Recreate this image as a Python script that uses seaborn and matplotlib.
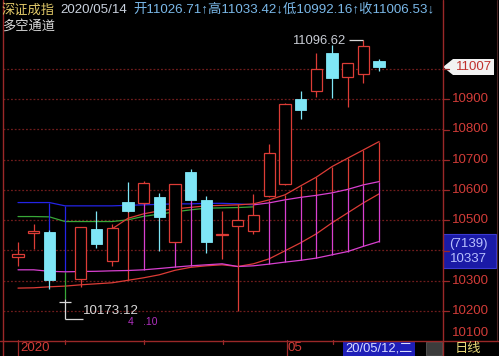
import matplotlib
matplotlib.use("Agg")
import matplotlib.pyplot as plt
import seaborn as sns
import pandas as pd
from matplotlib.patches import Polygon, Rectangle, FancyBboxPatch
from matplotlib.lines import Line2D

# ---------------- data ----------------
bars = list(range(24))
opens = [10377.5, 10457.9, 10462.2, 10227.4, 10305.8, 10470.1, 10366.3, 10561.3,
         10556.0, 10577.8, 10427.1, 10658.5, 10566.9, 10449.6, 10482.0, 10464.5,
         10580.2, 10619.8, 10899.8, 10927.3, 11053.9, 10974.5, 10982.5, 11026.71]
highs = [10427.1, 10487.6, 10467.0, 10240.0, 10477.5, 10530.6, 10486.6, 10627.4,
         10629.7, 10590.1, 10620.5, 10668.4, 10580.2, 10531.6, 10553.7, 10585.8,
         10752.1, 10886.0, 10927.3, 11053.9, 11079.3, 11020.0, 11096.62, 11033.42]
lows = [10348.8, 10405.0, 10272.7, 10173.12, 10278.3, 10407.3, 10348.8, 10527.3,
        10552.1, 10399.3, 10425.0, 10565.0, 10392.7, 10370.9, 10197.7, 10453.5,
        10578.0, 10617.0, 10834.7, 10908.4, 10903.1, 10873.4, 10954.7, 10992.16]
closes = [10387.4, 10465.5, 10300.2, 10227.4, 10476.7, 10420.5, 10473.4, 10531.6,
          10624.1, 10509.8, 10618.8, 10566.9, 10427.1, 10452.9, 10500.8, 10517.4,
          10721.3, 10884.3, 10864.5, 11000.0, 10971.2, 11018.8, 11076.0, 11006.53]

# channel lines (first bar index, values)
blue_start = 0
blue_line = [10558.0, 10558.0, 10558.0, 10547.1, 10547.1, 10547.1, 10547.1, 10548.8,
             10550.4, 10552.1, 10553.7, 10553.7, 10555.4, 10555.4, 10553.7, 10550.4]
green_start = 0
green_line = [10511.7, 10511.7, 10510.7, 10495.2, 10495.2, 10495.2, 10495.2, 10500.8,
              10512.4, 10519.7, 10527.3, 10533.9, 10539.5, 10540.5, 10541.5, 10543.8]
mag_low_start = 0
mag_low = [10335.5, 10335.5, 10330.6, 10328.9, 10329.9, 10330.6, 10332.2, 10333.2,
           10335.5, 10339.8, 10344.5, 10348.8, 10352.1, 10355.4, 10346.4, 10348.8,
           10354.4, 10361.0, 10366.9, 10374.2, 10385.1, 10396.0, 10413.2, 10429.1]
red_low_start = 0
red_low = [10275.0, 10276.0, 10279.3, 10281.6, 10285.9, 10289.3, 10292.6, 10300.8,
           10309.1, 10319.0, 10333.9, 10343.8, 10348.8, 10352.1, 10346.4, 10355.4,
           10371.9, 10398.3, 10424.8, 10454.5, 10490.9, 10524.0, 10557.0, 10586.8]
red_up_start = 6
red_up = [10471.1, 10505.8, 10520.7, 10530.6, 10537.2, 10542.1, 10547.1, 10548.8,
          10550.4, 10553.7, 10566.9, 10583.5, 10613.2, 10642.0, 10677.0, 10704.8,
          10732.2, 10759.7]
mag_up_start = 15
mag_up = [10550.4, 10557.0, 10566.9, 10575.2, 10581.8, 10590.1, 10601.6, 10616.5, 10627.4]

# extra vertical sticks (bar, top, bottom)
stick_bar = [2, 3, 3, 7, 8, 10, 11]
stick_top = [10558.0, 10547.1, 10328.9, 10531.6, 10556.0, 10427.1, 10566.9]
stick_bot = [10462.2, 10328.9, 10240.0, 10300.8, 10335.5, 10344.5, 10348.8]

grid_levels = [10200, 10300, 10400, 10500, 10600, 10700, 10800, 10900, 11000]
axis_labels = [10200, 10300, 10500, 10600, 10700, 10800, 10900]
header_name = "深证成指"
header_date = "2020/05/14"
header_ohlc = "开11026.71↑高11033.42↓低10992.16↑收11006.53↓"
indicator_name = "多空通道"
last_price_label = "11007"
box_labels = ["(7139)", "10337"]
low_label = "10173.12"
high_label = "11096.62"
month_labels = ["2020", "05"]
cursor_label = "20/05/12,二"
period_label = "日线"

# ---------------- style ----------------
sns.set_theme(style="dark", rc={"axes.facecolor": "black", "figure.facecolor": "black"})
plt.rcParams["font.family"] = ["Liberation Sans", "Noto Sans CJK SC", "DejaVu Sans"]

W, H = 499, 356
RED = "#dc3c36"
AXRED = "#9a2828"
CYAN = "#7fe6f6"
MAG = "#d840d0"
BLUE = "#2424e6"
GREEN = "#38a838"
LABRED = "#d23c38"

fig = plt.figure(figsize=(W / 100, H / 100), dpi=100)
fig.patch.set_facecolor("black")
ax = fig.add_axes([3 / W, (H - 341) / H, 440 / W, 341 / H])
ax.set_facecolor("black")
ax.set_xlim(-0.955, 27.07)
ax.set_ylim(10100, 11228.1)
for s in ax.spines.values():
    s.set_visible(False)
ax.set_xticks([])
ax.set_yticks([])
ax.grid(False)


def P(x, y):
    return (x / W, 1 - y / H)


# grid
for g in grid_levels:
    ax.axhline(g, color="#6e1c1c", lw=0.9, ls=(0, (1.5, 1.5)), zorder=1)


def line(start, vals, color, lw=0.9, z=2):
    df = pd.DataFrame({"bar": list(range(start, start + len(vals))), "v": vals})
    sns.lineplot(data=df, x="bar", y="v", ax=ax, color=color, lw=lw,
                 estimator=None, legend=False, zorder=z)


line(red_low_start, red_low, RED)
line(blue_start, blue_line, BLUE)
line(green_start, green_line, GREEN)
line(red_up_start, red_up, RED)
line(mag_up_start, mag_up, MAG, z=2.2)
line(mag_low_start, mag_low, MAG, z=2.2)

# channel verticals
for k, i in enumerate(range(mag_up_start + 1, 24)):
    ax.vlines(i, mag_up[i - mag_up_start], red_up[i - red_up_start], color=RED, lw=0.9, zorder=2)
    ax.vlines(i, mag_low[i - mag_low_start], mag_up[i - mag_up_start], color=MAG, lw=0.9, zorder=2)
stick_colors = [BLUE, BLUE, GREEN, RED, MAG, MAG, MAG]
for b, t, bt, c in zip(stick_bar, stick_top, stick_bot, stick_colors):
    ax.vlines(b, bt, t, color=c, lw=0.9, zorder=2)

ax.set_xlabel("")
ax.set_ylabel("")
ax.set_xticks([])
ax.set_yticks([])

# candles
w = 0.72
for i, o, h, l, c in zip(bars, opens, highs, lows, closes):
    if c > o:
        ax.vlines(i, c, h, color=RED, lw=0.9, zorder=3)
        ax.vlines(i, l, o, color=RED, lw=0.9, zorder=3)
        ax.bar(i, c - o, bottom=o, width=w, facecolor="black", edgecolor=RED, lw=0.9, zorder=3)
    elif c < o:
        ax.vlines(i, l, h, color=CYAN, lw=0.9, zorder=3)
        ax.bar(i, o - c, bottom=c, width=w, facecolor=CYAN, edgecolor=CYAN, lw=0.6, zorder=3)
    else:
        ax.vlines(i, l, h, color="#d8d8d8", lw=0.9, zorder=3)
        ax.hlines(o, i - w / 2, i + w / 2, color="#d8d8d8", lw=0.9, zorder=3)

# low / high annotations
ax.hlines(lows[3], 3, 4.15, color="#d8d8d8", lw=0.9, zorder=3)
fig.text(*P(83, 311), low_label, color="#d8d8d8", fontsize=9.6, va="center", ha="left")
ax.hlines(highs[22], 21.1, 22, color="#d8d8d8", lw=0.9, zorder=3)
fig.text(*P(292, 41), high_label, color="#c8ccd4", fontsize=9.4, va="center", ha="left")
fig.text(*P(131, 322), "4", color="#b030c0", fontsize=7.5, va="center", ha="center")
fig.text(*P(143, 322), ".10", color="#b030c0", fontsize=7.5, va="center", ha="left")

# frame lines
fig.add_artist(Line2D([3 / W, 3 / W], [0, 1], color=AXRED, lw=1.0))
fig.add_artist(Line2D([443 / W, 443 / W], [0, 1], color=AXRED, lw=1.0))
fig.add_artist(Line2D([497 / W, 497 / W], [1 - 340 / H, 1], color="#4a2424", lw=0.8))
fig.add_artist(Line2D([0, 1], [1 - 340.5 / H] * 2, color=AXRED, lw=1.0))
for xx in [18, 286.7]:
    fig.add_artist(Line2D([xx / W] * 2, [0, 1 - 340 / H], color=AXRED, lw=0.9))
for xx in [65, 144, 222.7, 333]:
    fig.add_artist(Line2D([xx / W] * 2, [1 - 344 / H, 1 - 340 / H], color=AXRED, lw=0.9))

# right axis labels and ticks
for v in grid_levels + [10100]:
    yp = 69 + (11000 - v) * 0.3025
    if yp < 339:
        fig.add_artist(Line2D([443 / W, 449 / W], [1 - yp / H] * 2, color=AXRED, lw=0.9))
for v in axis_labels:
    yp = 69 + (11000 - v) * 0.3025
    fig.text(*P(489, yp), str(v), color=LABRED, fontsize=9.5, ha="right", va="center")
fig.text(*P(489, 333), "10100", color=LABRED, fontsize=9.5, ha="right", va="center")

# last price marker
fig.add_artist(Polygon([P(443, 67), P(453, 59), P(494, 59), P(494, 75), P(453, 75)],
                       closed=True, transform=fig.transFigure, facecolor="#f2f2f2",
                       edgecolor="none"))
fig.text(*P(474.5, 67.5), last_price_label, color="#c0302c", fontsize=9.5, ha="center", va="center")

# indicator value box
fig.add_artist(Rectangle(P(443, 268), 53 / W, 34 / H, transform=fig.transFigure,
                         facecolor="#1a1aa6", edgecolor="#3a3ad0", lw=0.8))
fig.text(*P(468, 243.5), box_labels[0], color="#b8c0ff", fontsize=9.5, ha="center", va="center")
fig.text(*P(468, 259.5), box_labels[1], color="#b8c0ff", fontsize=9.5, ha="center", va="center")

# header
fig.text(*P(2, 10), header_name, color="#e0c868", fontsize=9.5, ha="left", va="center",
         family=["Noto Sans CJK SC", "DejaVu Sans"])
fig.text(*P(60, 10), header_date, color="#c8d0dc", fontsize=9.6, ha="left", va="center")
fig.text(*P(133, 10), header_ohlc, color="#7ab8e8", fontsize=9.6, ha="left", va="center")
fig.text(*P(2, 26), indicator_name, color="#d8d8d8", fontsize=9.5, ha="left", va="center",
         family=["Noto Sans CJK SC", "DejaVu Sans"])

# bottom bar
fig.text(*P(20, 348), month_labels[0], color=LABRED, fontsize=9.5, ha="left", va="center")
fig.text(*P(288, 348), month_labels[1], color=LABRED, fontsize=9.5, ha="left", va="center")
fig.add_artist(Rectangle(P(343, 356), 72 / W, 15.5 / H, transform=fig.transFigure,
                         facecolor="#1e1eb8", edgecolor="none"))
fig.text(*P(379, 348.5), cursor_label, color="#d8dcff", fontsize=9.3, ha="center", va="center")
fig.add_artist(FancyBboxPatch(P(428, 355), 13 / W, 12 / H, boxstyle="round,pad=0.003",
                              transform=fig.transFigure, facecolor="#3c3c3c",
                              edgecolor="#5a5a5a", lw=0.6))
fig.text(*P(468, 348.5), period_label, color="#e8d878", fontsize=9.5, ha="center", va="center",
         family=["Noto Sans CJK SC", "DejaVu Sans"])

fig.savefig("out.png", dpi=100, facecolor="black")
